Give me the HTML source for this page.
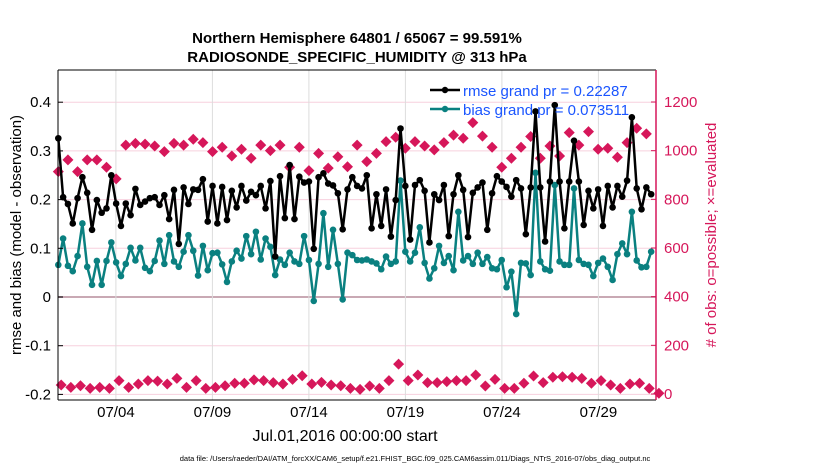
<!DOCTYPE html>
<html><head><meta charset="utf-8">
<style>
html,body{margin:0;padding:0;background:#fff;}
svg{display:block;font-family:"Liberation Sans",sans-serif;}
</style></head>
<body>
<svg id="chart" width="830" height="470" viewBox="0 0 830 470" xmlns="http://www.w3.org/2000/svg">
<text x="357" y="43" text-anchor="middle" font-size="15" font-weight="bold">Northern Hemisphere 64801 / 65067 = 99.591%</text>
<text x="357" y="62" text-anchor="middle" font-size="15" font-weight="bold">RADIOSONDE_SPECIFIC_HUMIDITY @ 313 hPa</text>
<g id="grid"></g>
<g id="marks"></g>
<g id="axes"></g>
<text transform="translate(21,235) rotate(-90)" text-anchor="middle" font-size="15">rmse and bias (model - observation)</text>
<text transform="translate(716,235) rotate(-90)" text-anchor="middle" font-size="15" fill="#d6175a"># of obs: o=possible; ×=evaluated</text>
<text x="345" y="441" text-anchor="middle" font-size="16">Jul.01,2016 00:00:00 start</text>
<text x="415" y="461" text-anchor="middle" font-size="7.5">data file: /Users/raeder/DAI/ATM_forcXX/CAM6_setup/f.e21.FHIST_BGC.f09_025.CAM6assim.011/Diags_NTrS_2016-07/obs_diag_output.nc</text>
<g>
<line x1="430" y1="90" x2="460" y2="90" stroke="#000" stroke-width="2.5"/>
<circle cx="445" cy="90" r="3.2" fill="#000"/>
<text x="463" y="96" font-size="15" fill="#1a55ff">rmse grand pr = 0.22287</text>
<line x1="430" y1="109" x2="460" y2="109" stroke="#0a8080" stroke-width="2.5"/>
<circle cx="445" cy="109" r="3.2" fill="#0a8080"/>
<text x="463" y="115" font-size="15" fill="#1a55ff">bias grand pr = 0.073511</text>
</g>
</svg>
<script>
const rmse=[0.326,0.205,0.191,0.151,0.203,0.246,0.214,0.138,0.199,0.173,0.182,0.250,0.192,0.146,0.192,0.168,0.222,0.189,0.196,0.203,0.205,0.189,0.209,0.160,0.220,0.109,0.225,0.191,0.221,0.220,0.242,0.155,
0.228,0.151,0.226,0.158,0.218,0.184,0.228,0.198,0.216,0.209,0.228,0.182,0.238,0.083,0.248,0.162,0.271,0.160,0.247,0.235,0.237,0.099,0.246,0.254,0.233,0.229,0.213,0.139,0.221,0.246,0.228,
0.223,0.250,0.141,0.211,0.146,0.221,0.124,0.199,0.346,0.228,0.118,0.230,0.240,0.218,0.112,0.211,0.199,0.230,0.125,0.211,0.250,0.220,0.123,0.214,0.225,0.235,0.138,0.213,0.248,0.237,0.226,
0.206,0.240,0.223,0.129,0.225,0.381,0.225,0.114,0.237,0.394,0.237,0.141,0.237,0.321,0.237,0.148,0.218,0.182,0.221,0.146,0.228,0.184,0.228,0.206,0.239,0.369,0.223,0.180,0.225,0.211];
const bias=[0.066,0.120,0.064,0.053,0.084,0.151,0.062,0.025,0.074,0.025,0.074,0.112,0.071,0.043,0.068,0.101,0.075,0.101,0.060,0.053,0.074,0.116,0.068,0.127,0.073,0.062,0.093,0.127,0.095,0.044,0.105,0.055,
0.090,0.091,0.067,0.031,0.073,0.095,0.079,0.125,0.088,0.134,0.077,0.120,0.103,0.045,0.077,0.066,0.091,0.073,0.068,0.125,0.076,-0.008,0.068,0.172,0.062,0.138,0.068,-0.005,0.091,0.086,0.076,
0.075,0.077,0.073,0.069,0.057,0.083,0.068,0.073,0.239,0.093,0.073,0.091,0.143,0.070,0.038,0.059,0.105,0.070,0.084,0.055,0.175,0.075,0.084,0.068,0.091,0.068,0.082,0.059,0.057,0.076,0.020,
0.052,-0.035,0.070,0.069,0.045,0.255,0.073,0.057,0.054,0.230,0.073,0.066,0.066,0.223,0.076,0.068,0.066,0.043,0.070,0.079,0.062,0.035,0.088,0.110,0.088,0.175,0.075,0.061,0.062,0.093];
const possible=[914,962,914,962,962,932,884,1023,1030,1027,1019,996,1030,1023,1047,1033,996,1014,978,1006,969,1023,1000,1023,932,1014,918,989,928,975,934,1023,955,
989,1037,1055,1010,1037,1019,1003,1033,1064,1051,1115,1060,1014,932,969,1014,1058,969,1019,978,1074,1023,1078,1006,1010,973,1033,1092,1069];
const evaluated=[37,27,34,23,27,23,55,27,41,55,53,41,64,27,55,23,27,34,44,44,58,55,47,41,60,75,41,48,37,34,23,19,
33,23,55,123,55,78,47,47,51,55,55,78,33,60,23,23,44,74,47,69,71,69,64,44,55,37,23,41,44,23,3];
const leftTicks=[0.4,0.3,0.2,0.1,0,-0.1,-0.2];
const leftTickLabels=["0.4","0.3","0.2","0.1","0","-0.1","-0.2"];
const rightTicks=[0,200,400,600,800,1000,1200];
const dayTicks=[3,8,13,18,23,28];
const dayTickLabels=["07/04","07/09","07/14","07/19","07/24","07/29"];

const L=58,R=656,T=70,B=400;
const NS="http://www.w3.org/2000/svg";
function yl(v){return 297-v*487;}
function yr(c){return 394-c*292/1200;}
function xd(d){return L+d*19.3;}           // d = days since Jul 01 00:00
function xi(i){return L+0.3+i*4.82;}        // 6-hourly index
function el(tag,attrs,parent){const e=document.createElementNS(NS,tag);for(const k in attrs)e.setAttribute(k,attrs[k]);parent.appendChild(e);return e;}
const grid=document.getElementById('grid'),marks=document.getElementById('marks'),axes=document.getElementById('axes');

leftTicks.forEach((v,i)=>{
  const g=el('line',{x1:L,x2:R,y1:yl(v),y2:yl(v),stroke:v===0?'#c9a9b4':'#f7d0de','stroke-width':v===0?2:1},grid);
  
  
  const t=el('text',{x:L-7,y:yl(v)+5,'text-anchor':'end','font-size':15},axes);
  t.textContent=leftTickLabels[i];
  
  
  el('line',{x1:L,x2:L+5,y1:yl(v),y2:yl(v),stroke:'#000'},axes);
});
rightTicks.forEach(c=>{
  const t=el('text',{x:R+8,y:yr(c)+5,'font-size':15,fill:'#d6175a'},axes);
  t.textContent=String(c);
  
  
  el('line',{x1:R-5,x2:R,y1:yr(c),y2:yr(c),stroke:'#d6175a'},axes);
});
dayTicks.forEach((d,i)=>{
  const g=el('line',{x1:xd(d),x2:xd(d),y1:T,y2:B,stroke:'#dcdcdc'},grid);
  
  
  const t=el('text',{x:xd(d),y:417,'text-anchor':'middle','font-size':15},axes);
  t.textContent=dayTickLabels[i];
  
  
});
el('line',{x1:L,x2:R,y1:T,y2:T,stroke:'#000'},axes);
el('line',{x1:L,x2:R,y1:B,y2:B,stroke:'#000'},axes);
el('line',{x1:L,x2:L,y1:T,y2:B,stroke:'#000'},axes);
el('line',{x1:R,x2:R,y1:T,y2:B,stroke:'#d6175a','stroke-width':1.5},axes);

function diamond(x,y,parent,name){
  const p=el('polygon',{points:`${x},${y-5.5} ${x+5.5},${y} ${x},${y+5.5} ${x-5.5},${y}`,fill:'#d6175a'},parent);
  
  
}
possible.forEach((c,k)=>diamond(xi(2*k),yr(c),marks,'possible-marker'));
evaluated.forEach((c,k)=>diamond(xi(2*k+0.6),yr(c),marks,'evaluated-marker'));

function series(arr,color,name){
  const pts=arr.map((v,i)=>xi(i).toFixed(1)+','+yl(v).toFixed(1)).join(' ');
  const pl=el('polyline',{points:pts,fill:'none',stroke:color,'stroke-width':2.5,'stroke-linejoin':'round'},marks);
  
  
  arr.forEach((v,i)=>{
    const c=el('circle',{cx:xi(i),cy:yl(v),r:3.3,fill:color},marks);
    
    
  });
}
series(bias,'#0a8080','bias');
series(rmse,'#000','rmse');
</script>
</body></html>
